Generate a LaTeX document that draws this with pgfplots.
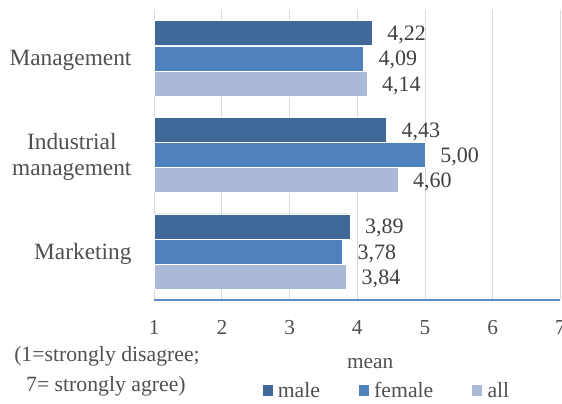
\documentclass[border=0pt]{standalone}
\usepackage{fontspec}
\setmainfont{Liberation Serif}
\usepackage{pgfplots}
\pgfplotsset{compat=1.18}

\definecolor{maleblue}{RGB}{64,104,153}
\definecolor{femaleblue}{RGB}{79,129,189}
\definecolor{allblue}{RGB}{169,185,215}
\definecolor{gridgray}{RGB}{217,217,217}
\definecolor{labelgray}{RGB}{64,64,64}
\definecolor{textgray}{RGB}{80,80,80}
\definecolor{baseblue}{RGB}{91,140,200}

\begin{document}
\begin{tikzpicture}
\begin{axis}[
  name=ax,
  scale only axis,
  width=304.6pt, height=217.5pt,
  xbar,
  bar width=18.75pt,
  xmin=1, xmax=7,
  ymin=0.5, ymax=3.5,
  xtick={1,...,7},
  xticklabels={1,2,3,4,5,6,7},
  ytick={1,2,3},
  yticklabels={Marketing,{Industrial\\management},Management},
  major tick length=0pt,
  xmajorgrids,
  major grid style={draw=gridgray, line width=0.75pt},
  axis line style={draw=none},
  xticklabel style={font=\fontsize{16}{19}\selectfont, text=textgray,
    anchor=base, inner sep=0pt, yshift=-25.5pt},
  yticklabel style={font=\fontsize{17.5}{20}\selectfont, text=textgray,
    anchor=east, align=center, inner sep=0pt, xshift=-16.9pt, yshift=-1.5pt},
  /pgf/number format/.cd, assume math mode=true, use comma, fixed, fixed zerofill, precision=2,
  /pgfplots/.cd,
  nodes near coords,
  every node near coord/.append style={font=\fontsize{16.5}{19}\selectfont,
    text=labelgray, anchor=base west, inner sep=0pt, xshift=11.25pt, yshift=-5.6pt},
  legend columns=3,
  legend style={draw=none, fill=none, inner sep=0pt, outer sep=0pt,
    at={(axis description cs:0,0)}, anchor=south west,
    xshift=80.5pt, yshift=-74.25pt,
    font=\fontsize{16.3}{19}\selectfont, text=textgray,
    nodes={inner sep=0pt, anchor=base west},
    /tikz/every odd column/.append style={column sep=3.5pt},
    /tikz/every even column/.append style={column sep=28.5pt}},
  legend image code/.code={\fill[#1] (0pt,0.75pt) rectangle (8.25pt,9.75pt);},
]
\addplot[draw=white, line width=0.4pt, fill=maleblue, bar shift=18.9pt]
  coordinates {(3.89,1) (4.43,2) (4.22,3)};
\addplot[draw=white, line width=0.4pt, fill=femaleblue, bar shift=0pt]
  coordinates {(3.78,1) (5.00,2) (4.09,3)};
\addplot[draw=white, line width=0.4pt, fill=allblue, bar shift=-18.9pt]
  coordinates {(3.84,1) (4.60,2) (4.14,3)};
\legend{male,female,all}
\draw[baseblue, line width=0.9pt] (rel axis cs:0,0) -- (rel axis cs:1,0);
\end{axis}
% axis title and scale note below the plot
\node[font=\fontsize{16}{19}\selectfont, text=textgray, anchor=base, inner sep=0pt]
  at ([xshift=161.9pt, yshift=-51pt]ax.south west) {mean};
\node[font=\fontsize{16.3}{19}\selectfont, text=textgray, anchor=base, inner sep=0pt]
  at ([xshift=-35.4pt, yshift=-46.3pt]ax.south west) {(1=strongly disagree;};
\node[font=\fontsize{16.3}{19}\selectfont, text=textgray, anchor=base, inner sep=0pt]
  at ([xshift=-36.2pt, yshift=-68.8pt]ax.south west) {7= strongly agree)};
\pgfresetboundingbox
\path[use as bounding box] ([xshift=-115.65pt, yshift=-77.25pt]ax.south west)
  rectangle ([xshift=1.2pt, yshift=7.5pt]ax.north east);
\end{tikzpicture}
\end{document}
